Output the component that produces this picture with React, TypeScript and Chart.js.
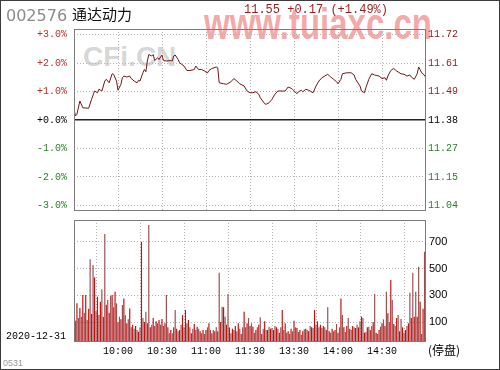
import React, { useEffect, useRef } from 'react';
import { Chart, registerables } from 'chart.js';

Chart.register(...registerables);

// ---- data ----
const stockCode = '002576';
const stockName = '通达动力';
const quoteText = '11.55 +0.17 (+1.49%)';
const dateText = '2020-12-31';
const prevClose = 11.38;
const pctSteps = [-3, -2, -1, 0, 1, 2, 3];
const pctLabels = ['-3.0%', '-2.0%', '-1.0%', '+0.0%', '+1.0%', '+2.0%', '+3.0%'];
const priceLabels = ['11.04', '11.15', '11.27', '11.38', '11.49', '11.61', '11.72'];
const timeTicks = [30, 60, 90, 120, 150, 180, 210];
const timeLabels = ['10:00', '10:30', '11:00', '11:30', '13:30', '14:00', '14:30'];
const volTicks = [100, 300, 500, 700];

const priceMinutes = [
  0, 1, 2, 4, 6, 10, 12, 14, 16, 17, 19, 20, 21, 22, 24, 26, 27, 29, 30, 32,
  33, 34, 36, 38, 39, 41, 43, 44, 45, 47, 48, 49, 50, 51, 53, 54, 55, 57, 58, 59,
  60, 61, 63, 66, 67, 68, 69, 71, 72, 75, 77, 79, 82, 83, 85, 87, 89, 91, 92, 94,
  97, 98, 99, 102, 104, 107, 109, 111, 113, 116, 118, 120, 122, 124, 126, 127, 130, 131, 133, 135,
  137, 139, 144, 146, 148, 149, 152, 153, 155, 156, 158, 160, 161, 163, 165, 167, 169, 171, 173, 175,
  177, 179, 180, 182, 183, 186, 189, 191, 192, 195, 196, 198, 199, 201, 203, 205, 208, 210, 212, 213,
  214, 216, 218, 220, 223, 225, 227, 229, 230, 232, 234, 235, 236, 237, 238, 240,
];
const prices = [
  11.424, 11.396, 11.403, 11.456, 11.429, 11.427, 11.463, 11.496, 11.489, 11.503, 11.496, 11.516, 11.536, 11.543, 11.529, 11.565, 11.563, 11.536, 11.499, 11.523,
  11.549, 11.556, 11.552, 11.556, 11.546, 11.536, 11.529, 11.539, 11.536, 11.569, 11.582, 11.573, 11.616, 11.642, 11.636, 11.642, 11.618, 11.629, 11.622, 11.632,
  11.640, 11.618, 11.616, 11.618, 11.616, 11.636, 11.640, 11.622, 11.609, 11.596, 11.578, 11.578, 11.582, 11.596, 11.582, 11.582, 11.576, 11.568, 11.578, 11.586,
  11.592, 11.589, 11.529, 11.525, 11.523, 11.533, 11.546, 11.536, 11.525, 11.516, 11.496, 11.489, 11.489, 11.493, 11.483, 11.469, 11.445, 11.443, 11.449, 11.463,
  11.483, 11.496, 11.496, 11.512, 11.507, 11.503, 11.485, 11.493, 11.499, 11.493, 11.503, 11.499, 11.496, 11.489, 11.516, 11.536, 11.549, 11.556, 11.563, 11.552,
  11.543, 11.533, 11.525, 11.543, 11.565, 11.569, 11.569, 11.560, 11.543, 11.516, 11.496, 11.489, 11.509, 11.543, 11.565, 11.560, 11.556, 11.546, 11.549, 11.539,
  11.556, 11.578, 11.586, 11.576, 11.565, 11.563, 11.556, 11.560, 11.552, 11.543, 11.565, 11.592, 11.582, 11.569, 11.565, 11.550,
];

const volumes = [
  60, 110, 240, 130, 205, 140, 302, 170, 302, 115,
  200, 570, 160, 527, 435, 180, 290, 152, 252, 345,
  140, 760, 230, 265, 170, 295, 302, 210, 327, 240,
  100, 140, 120, 227, 277, 150, 90, 120, 202, 60,
  80, 50, 70, 40, 27, 60, 702, 130, 100, 177,
  90, 827, 60, 80, 130, 70, 105, 90, 115, 80,
  122, 70, 90, 302, 60, 15, 40, 15, 60, 190,
  50, 30, 40, 80, 152, 60, 190, 90, 115, 60,
  15, 50, 85, 40, 65, 50, 30, 15, 40, 10,
  40, 60, 90, 40, 15, 40, 30, 60, 30, 470,
  100, 215, 210, 140, 80, 310, 60, 15, 50, 40,
  70, 30, 90, 50, 10, 60, 177, 60, 90, 130,
  70, 90, 65, 20, 40, 60, 80, 135, 10, 50,
  105, 40, 40, 65, 50, 55, 40, 70, 60, 50,
  20, 60, 190, 40, 90, 20, 30, 10, 50, 30,
  110, 60, 55, 25, 40, 5, 30, 45, 50, 40,
  30, 70, 60, 55, 190, 80, 105, 60, 80, 55,
  70, 60, 40, 210, 30, 20, 50, 30, 40, 85,
  20, 60, 277, 152, 60, 25, 70, 130, 50, 40,
  70, 60, 55, 80, 60, 105, 140, 130, 20, 25,
  60, 65, 40, 70, 100, 310, 20, 10, 40, 65,
  90, 120, 70, 327, 165, 100, 415, 265, 85, 70,
  130, 152, 30, 122, 60, 20, 40, 70, 90, 320,
  130, 470, 140, 327, 140, 515, 252, 10, 200, 627,
  80,
];

// ---- styles ----
const MONO = "'Liberation Mono', 'DejaVu Sans Mono', monospace";
const SANS = "'Liberation Sans', Arial, sans-serif";
const CJK = "'Noto Sans CJK SC', sans-serif";
const GRID = '#b4b4b4';
const RED = '#b83030';
const GREEN = '#2a7d2a';
const PCT_RANGE = 3.2;
const VOL_MIN = -50;
const VOL_MAX = 865;

const framePlugin = {
  id: 'frame',
  afterDraw(chart: any) {
    const { ctx, chartArea } = chart;
    const l = Math.round(chartArea.left);
    const t = Math.round(chartArea.top);
    const r = Math.round(chartArea.right);
    const b = Math.round(chartArea.bottom);
    ctx.save();
    ctx.strokeStyle = '#7c7c7c';
    ctx.lineWidth = 1;
    ctx.strokeRect(l + 0.5, t + 0.5, r - l - 1, b - t - 1);
    ctx.restore();
  },
};

const fixSize = (w: number | null, h: number | null) => (s: any) => {
  if (w !== null) s.width = w;
  if (h !== null) s.height = h;
  s.paddingTop = 0;
  s.paddingBottom = 0;
  s.paddingLeft = 0;
  s.paddingRight = 0;
};

export default function App() {
  const priceRef = useRef<HTMLCanvasElement>(null);
  const volRef = useRef<HTMLCanvasElement>(null);

  useEffect(() => {
    const lo = prevClose * (1 - PCT_RANGE / 100);
    const hi = prevClose * (1 + PCT_RANGE / 100);
    const priceTickVals = pctSteps.map((k) => prevClose * (1 + k / 100));
    const zeroIdx = pctSteps.indexOf(0);
    const labelColor = (i: number) => (i < zeroIdx ? GREEN : i === zeroIdx ? '#000' : RED);

    const priceChart = new Chart(priceRef.current as HTMLCanvasElement, {
      type: 'line',
      data: {
        datasets: [
          {
            data: priceMinutes.map((m, i) => ({ x: m, y: prices[i] })),
            borderColor: '#701818',
            borderWidth: 1,
            pointRadius: 0,
            tension: 0,
            yAxisID: 'y',
          },
        ],
      },
      options: {
        animation: false,
        responsive: false,
        events: [],
        layout: { autoPadding: false, padding: { top: 29, bottom: 4, left: 0, right: 0 } },
        plugins: { legend: { display: false }, tooltip: { enabled: false } },
        scales: {
          x: {
            type: 'linear',
            min: 0,
            max: 240,
            afterBuildTicks: (s: any) => {
              s.ticks = timeTicks.map((v) => ({ value: v }));
            },
            ticks: { display: false },
            grid: { color: GRID, drawTicks: false },
            border: { display: false, dash: [1, 2] },
            afterFit: fixSize(null, 0),
          },
          y: {
            position: 'left',
            min: lo,
            max: hi,
            afterBuildTicks: (s: any) => {
              s.ticks = priceTickVals.map((v) => ({ value: v }));
            },
            ticks: {
              padding: 7,
              font: { family: MONO, size: 10 },
              color: (c: any) => labelColor(c.index),
              callback: (_v: any, i: number) => pctLabels[i],
            },
            grid: {
              drawTicks: false,
              color: (c: any) => (c.index === zeroIdx ? '#222' : GRID),
              lineWidth: (c: any) => (c.index === zeroIdx ? 1.6 : 1),
            },
            border: { display: false, dash: (c: any) => (c.index === zeroIdx ? [] : [1, 2]) },
            afterFit: fixSize(74, null),
          },
          y2: {
            position: 'right',
            min: lo,
            max: hi,
            afterBuildTicks: (s: any) => {
              s.ticks = priceTickVals.map((v) => ({ value: v }));
            },
            ticks: {
              padding: 2,
              font: { family: MONO, size: 10 },
              color: (c: any) => (c.index < zeroIdx ? GREEN : c.index === zeroIdx ? '#000' : '#8a2222'),
              callback: (_v: any, i: number) => priceLabels[i],
            },
            grid: { display: false, drawTicks: false },
            border: { display: false },
            afterFit: fixSize(74, null),
          },
        },
      } as any,
      plugins: [framePlugin],
    });

    const volChart = new Chart(volRef.current as HTMLCanvasElement, {
      type: 'bar',
      data: {
        datasets: [
          {
            data: volumes.map((v, i) => ({ x: i, y: v })),
            base: VOL_MIN,
            backgroundColor: (c: any) => (c.dataIndex % 2 ? '#9c4e4e' : '#c01010'),
            borderWidth: 0,
            barPercentage: 0.8,
            categoryPercentage: 1,
          } as any,
        ],
      },
      options: {
        animation: false,
        responsive: false,
        events: [],
        layout: { autoPadding: false, padding: { top: 5, bottom: 0, left: 74, right: 0 } },
        plugins: { legend: { display: false }, tooltip: { enabled: false } },
        scales: {
          x: {
            type: 'linear',
            min: 0,
            max: 240,
            offset: false,
            afterBuildTicks: (s: any) => {
              s.ticks = timeTicks.map((v) => ({ value: v }));
            },
            ticks: {
              padding: 3,
              autoSkip: false,
              maxRotation: 0,
              font: { family: MONO, size: 10 },
              color: '#000',
              callback: (_v: any, i: number) => timeLabels[i],
            },
            grid: { color: GRID, drawTicks: false },
            border: { display: false, dash: [1, 2] },
            afterFit: fixSize(null, 28),
          },
          y: {
            position: 'right',
            min: VOL_MIN,
            max: VOL_MAX,
            afterBuildTicks: (s: any) => {
              s.ticks = volTicks.map((v) => ({ value: v }));
            },
            ticks: {
              padding: 3,
              font: { family: SANS, size: 11 },
              color: '#000',
              callback: (_v: any, i: number) => String(volTicks[i]),
            },
            grid: { color: GRID, drawTicks: false },
            border: { display: false, dash: [1, 2] },
            afterFit: fixSize(74, null),
          },
        },
      } as any,
      plugins: [framePlugin],
    });

    return () => {
      priceChart.destroy();
      volChart.destroy();
    };
  }, []);

  const abs = (o: React.CSSProperties): React.CSSProperties => ({
    position: 'absolute',
    whiteSpace: 'nowrap',
    margin: 0,
    ...o,
  });

  return (
    <div
      style={{
        position: 'fixed',
        left: 0,
        top: 0,
        width: 500,
        height: 370,
        background: '#fff',
        overflow: 'hidden',
      }}
    >
      <div
        style={abs({
          left: 204,
          top: 0.5,
          fontFamily: SANS,
          fontWeight: 'bold',
          fontSize: 33,
          lineHeight: '33px',
          color: 'rgba(235,70,70,0.48)',
          transform: 'scaleY(1.345)',
          transformOrigin: 'top left',
        })}
      >
        www.tuiaxc.cn
      </div>
      <div
        style={abs({
          left: 83,
          top: 43,
          fontFamily: SANS,
          fontWeight: 'bold',
          fontSize: 28,
          lineHeight: '28px',
          color: 'rgba(150,150,150,0.4)',
        })}
      >
        CFi.CN
      </div>
      <canvas
        ref={priceRef}
        width={500}
        height={215}
        style={{ position: 'absolute', left: 0, top: 0, width: 500, height: 215, display: 'block' }}
      />
      <canvas
        ref={volRef}
        width={500}
        height={155}
        style={{ position: 'absolute', left: 0, top: 215, width: 500, height: 155, display: 'block' }}
      />
      <div style={abs({ left: 6, top: 7.5, fontFamily: "'DejaVu Sans', sans-serif", fontSize: 16, lineHeight: '16px', color: '#8c8c8c' })}>
        {stockCode}
      </div>
      <div style={abs({ left: 72, top: 6, fontFamily: CJK, fontSize: 15, lineHeight: '15px', color: '#111' })}>
        {stockName}
      </div>
      <div style={abs({ left: 244, top: 4, fontFamily: MONO, fontSize: 12, lineHeight: '12px', color: '#9a1c1c' })}>
        {quoteText}
      </div>
      <div style={abs({ left: 6, top: 332, fontFamily: MONO, fontSize: 10, lineHeight: '10px', color: '#000' })}>
        {dateText}
      </div>
      <div style={abs({ left: 3, top: 359, fontFamily: SANS, fontSize: 9, lineHeight: '9px', color: '#9a9a9a' })}>
        0531
      </div>
      <div style={abs({ left: 428, top: 344, fontFamily: CJK, fontSize: 12, lineHeight: '12px', color: '#000' })}>
        (停盘)
      </div>
      <div
        style={{
          position: 'absolute',
          left: 0,
          top: 0,
          width: 500,
          height: 370,
          boxSizing: 'border-box',
          border: '1px solid #3c3c3c',
          pointerEvents: 'none',
        }}
      />
    </div>
  );
}
